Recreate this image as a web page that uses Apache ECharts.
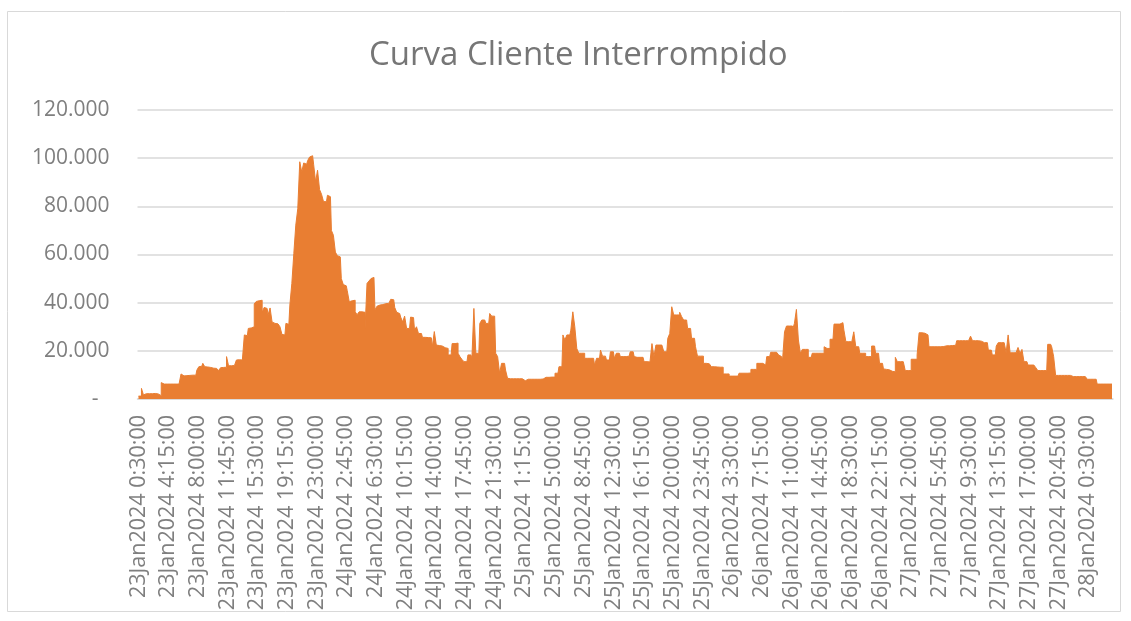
<!DOCTYPE html>
<html>
<head>
<meta charset="utf-8">
<script src="https://cdn.jsdelivr.net/npm/echarts@6/dist/echarts.min.js"></script>
<style>
  html, body { margin: 0; padding: 0; background: #fff; }
  #chart { width: 1131px; height: 621px; }
</style>
</head>
<body>
<div id="chart"></div>
<script>
// 15-minute readings, 23Jan2024 0:30 onwards
const startDay = 23;
const startMinutes = 30;
const stepMinutes = 15;

const clientes = [
  1200,1200,4400,1700,2200,2200,2200,2200,2300,2200,2100,1400,6800,6200,6200,
  6200,6200,6200,6200,6200,6200,6200,10400,9600,9700,9800,9800,9900,10000,9900,
  12000,13400,13600,14800,13400,13300,13100,13000,12800,12700,12600,11800,13000,13100,13200,
  17600,13800,13800,13900,13800,16200,16300,16200,16100,26600,26300,29300,29500,30000,39500,
  40500,40800,41000,36000,38000,37600,35000,37800,32000,31400,31200,31000,30000,26800,26600,
  31400,31000,39000,48000,60400,72200,79000,98500,94300,98000,97500,99000,100500,101000,97500,
  90200,95000,87000,85000,82000,81900,84600,84000,70000,68000,61000,59500,59000,50000,47500,
  47000,45000,40400,40800,41000,36200,35000,36200,36200,36000,29300,48000,49000,50000,50500,
  37000,38500,39000,39200,39400,39600,39700,39700,41400,41200,38000,36000,35500,34000,32000,
  34400,29300,29300,34000,33800,28600,30000,27200,27200,25600,25600,25500,25400,25400,21700,
  28000,22400,22200,22000,21600,21300,21000,18300,18300,23000,23000,23200,19000,17500,16400,
  15500,15500,18300,18300,16900,37600,19000,19000,31400,32800,32800,31400,31400,35500,34400,
  34400,19000,17600,10700,14800,14800,12000,8600,8400,8400,8400,8400,8400,8400,8400,
  7600,8200,8200,8200,8200,8200,8200,8200,8200,8300,8300,9000,9000,9000,9100,
  9100,10700,10700,13400,13400,26600,24500,26600,26600,28600,36200,30000,21000,19000,19000,
  19000,16900,16900,16900,16900,16900,14000,16900,16900,20300,17800,17800,16200,16200,19600,
  19600,16900,19000,19000,17600,17600,17600,17800,17800,19600,19600,17600,17300,17300,17300,
  17300,15500,15500,15400,15300,23000,17600,22400,22400,22400,22400,19600,19600,25200,27200,
  38300,34900,34900,34900,36000,34200,32800,32800,29300,29300,25200,25200,21700,17800,17800,
  17800,14800,14800,14600,14600,13400,13400,13300,13300,13200,13200,10400,10400,10400,9500,
  9500,9500,9500,9500,10700,10700,10700,10700,10700,10800,12300,12300,12300,14800,14800,
  14800,14100,14100,17600,17600,19400,19400,19400,19400,18300,17600,16200,27900,30300,30300,
  30300,28600,31400,37200,24500,19000,20600,20600,20600,17300,17300,19000,19000,19000,19000,
  19000,19000,21700,21000,21000,24800,24800,31100,31100,31100,31100,31700,28600,23800,23800,
  23800,23500,27900,21700,21700,19000,19000,19000,17600,17600,17600,22000,22000,19000,19000,
  14800,14800,12500,12300,12100,11800,11500,11300,17300,15500,15500,15500,15500,11800,11800,
  11800,16500,16500,16500,18300,27500,27500,27300,27200,26600,21700,21700,21700,21700,21700,
  21700,21700,21800,22100,22100,22100,22200,22100,22300,24200,24200,24200,24200,24200,24200,
  24200,26100,24200,24200,24200,24000,24000,23400,23400,23400,20300,20300,18300,18300,22000,
  23400,23400,23400,23400,19200,26600,19200,19200,19200,19200,21400,19000,20600,15500,15500,
  14100,14100,14100,14100,13000,11800,11800,11800,11800,11800,22700,22700,21700,17600,9800,
  9800,9800,9800,9800,9800,9800,9800,9300,9300,9300,9300,9300,9300,9300,9300,
  8200,8200,8200,8200,8200,6200,6200,6200,6200,6200,6200,6200,6200
];

const categories = [];
for (let i = 0; i < clientes.length; i++) {
  const total = startMinutes + i * stepMinutes;
  const day = startDay + Math.floor(total / 1440);
  const m = total % 1440;
  const hh = Math.floor(m / 60);
  const mm = String(m % 60).padStart(2, '0');
  categories.push(day + 'Jan2024 ' + hh + ':' + mm + ':00');
}

const yTicks = [0, 20000, 40000, 60000, 80000, 100000, 120000];

function fmtMil(v) {
  if (v === 0) return '-  ';
  return String(v).replace(/\B(?=(\d{3})+(?!\d))/g, '.');
}

const chart = echarts.init(document.getElementById('chart'));
chart.setOption({
  animation: false,
  backgroundColor: '#fff',
  textStyle: { fontFamily: 'Open Sans' },
  title: {
    text: 'Curva Cliente Interrompido',
    left: 364,
    top: 34,
    textStyle: { fontFamily: 'Open Sans', fontSize: 33, fontWeight: 'normal', color: '#767676' }
  },
  graphic: [{
    type: 'rect',
    shape: { x: 7.5, y: 11.5, width: 1113, height: 600 },
    style: { fill: 'none', stroke: '#D9D9D9', lineWidth: 1 },
    silent: true
  }],
  grid: { left: 137.5, right: 18, top: 110, bottom: 222 },
  xAxis: {
    type: 'category',
    data: categories,
    boundaryGap: true,
    axisTick: { show: false },
    axisLine: { lineStyle: { color: '#D9D9D9', width: 1.5 } },
    axisLabel: {
      interval: 14,
      rotate: 90,
      margin: 16,
      fontSize: 21.5,
      color: '#7F7F7F',
      fontFamily: 'Open Sans'
    }
  },
  yAxis: {
    type: 'value',
    min: yTicks[0],
    max: yTicks[yTicks.length - 1],
    interval: 20000,
    axisLine: { show: false },
    axisTick: { show: false },
    splitLine: { lineStyle: { color: '#D9D9D9', width: 1.5 } },
    axisLabel: {
      margin: 28,
      fontSize: 21,
      color: '#7F7F7F',
      fontFamily: 'Open Sans',
      formatter: fmtMil
    }
  },
  series: [{
    name: 'Clientes',
    type: 'line',
    step: 'middle',
    data: clientes,
    symbol: 'none',
    lineStyle: { color: '#E97E32', width: 1 },
    areaStyle: { color: '#E97E32', opacity: 1 },
    itemStyle: { color: '#E97E32' }
  }]
});
</script>
</body>
</html>
